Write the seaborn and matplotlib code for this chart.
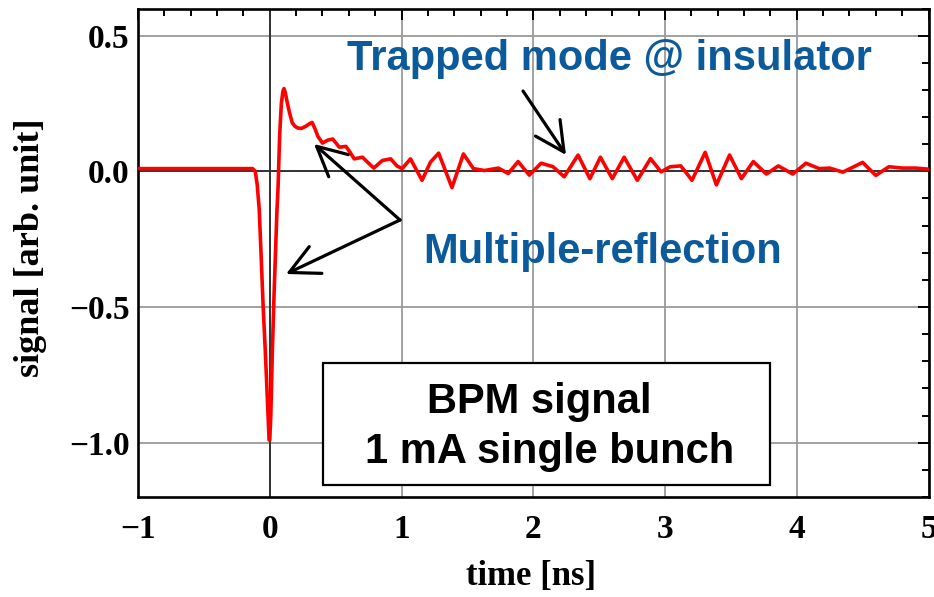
import matplotlib
matplotlib.use("Agg")
import matplotlib.pyplot as plt
import matplotlib.patches as mpatches
from matplotlib.ticker import MultipleLocator, FixedLocator
import seaborn as sns
import pandas as pd

# ---- data ----
time_ns = [-1.0, -0.5, -0.2, -0.13, -0.11, -0.095, -0.08, -0.068, -0.05, -0.034,
           -0.018, -0.005, 0.0, 0.008, 0.02, 0.033, 0.045, 0.055, 0.063, 0.075,
           0.088, 0.100, 0.108, 0.118, 0.13, 0.15, 0.17, 0.189, 0.21, 0.24,
           0.277, 0.30, 0.322, 0.345, 0.364, 0.40, 0.44, 0.478, 0.528, 0.578,
           0.61, 0.641, 0.704, 0.75, 0.79, 0.855, 0.918, 0.965, 1.005, 1.068,
           1.156, 1.22, 1.282, 1.383, 1.47, 1.546, 1.63, 1.735, 1.81, 1.885,
           1.97, 2.06, 2.15, 2.235, 2.34, 2.43, 2.51, 2.60, 2.69, 2.79,
           2.89, 2.97, 3.04, 3.12, 3.205, 3.305, 3.39, 3.49, 3.58, 3.67,
           3.77, 3.86, 3.97, 4.07, 4.17, 4.25, 4.35, 4.50, 4.60, 4.70,
           4.80, 4.90, 5.0]
signal = [0.010, 0.010, 0.010, 0.010, 0.0, -0.05, -0.14, -0.28, -0.50, -0.66,
          -0.84, -0.99, -0.99, -0.90, -0.66, -0.45, -0.28, -0.14, -0.06, 0.13,
          0.25, 0.295, 0.305, 0.29, 0.26, 0.216, 0.18, 0.167, 0.16, 0.158,
          0.167, 0.175, 0.18, 0.155, 0.13, 0.104, 0.115, 0.119, 0.089, 0.092,
          0.07, 0.046, 0.052, 0.03, 0.012, 0.04, 0.046, 0.02, 0.01, 0.046,
          -0.033, 0.034, 0.067, -0.06, 0.064, 0.01, 0.003, 0.012, -0.008, 0.036,
          -0.014, 0.03, 0.017, -0.02, 0.06, -0.027, 0.052, -0.027, 0.052, -0.033,
          0.047, -0.002, 0.017, 0.02, -0.033, 0.07, -0.05, 0.06, -0.027, 0.036,
          -0.01, 0.02, -0.01, 0.03, 0.01, 0.012, -0.003, 0.033, -0.015, 0.017,
          0.012, 0.012, 0.008]

x_ticks = [-1, 0, 1, 2, 3, 4, 5]
x_tick_labels = ["\u22121", "0", "1", "2", "3", "4", "5"]
y_ticks = [0.5, 0.0, -0.5, -1.0]
y_tick_labels = ["0.5", "0.0", "\u22120.5", "\u22121.0"]

x_label = "time [ns]"
y_label = "signal [arb. unit]"
note_trapped = "Trapped mode @ insulator"
note_multi = "Multiple-reflection"
box_line1 = "BPM signal"
box_line2 = "1 mA single bunch"

df = pd.DataFrame({"time": time_ns, "signal": signal})

sns.set_style("white")
plt.rcParams["font.family"] = ["Liberation Serif", "DejaVu Serif"]
plt.rcParams["text.color"] = "black"
plt.rcParams["axes.labelcolor"] = "black"
plt.rcParams["xtick.color"] = "black"
plt.rcParams["ytick.color"] = "black"

W, H = 934, 597
fig = plt.figure(figsize=(W / 100, H / 100), dpi=100)
L, R, T, B = 138, 928.5, 8.5, 497
ax = fig.add_axes([L / W, 1 - B / H, (R - L) / W, (B - T) / H])

sns.lineplot(data=df, x="time", y="signal", ax=ax, color="#ff0000",
             linewidth=2.6, zorder=5)
for ln in ax.get_lines():
    ln.set_solid_joinstyle("round")
    ln.set_solid_capstyle("round")

ax.set_xlim(-1, 5)
ax.set_ylim(-1.2, 0.6)
ax.xaxis.set_major_locator(FixedLocator(x_ticks))
ax.set_xticklabels(x_tick_labels)
ax.yaxis.set_major_locator(FixedLocator(y_ticks))
ax.set_yticklabels(y_tick_labels)
ax.xaxis.set_minor_locator(MultipleLocator(0.2))
ax.yaxis.set_minor_locator(MultipleLocator(0.1))

ax.grid(True, which="major", color="#9a9a9a", linewidth=1.3, zorder=1)
ax.axhline(0, color="#333333", linewidth=1.4, zorder=2)
ax.axvline(0, color="#333333", linewidth=1.4, zorder=2)

for s in ax.spines.values():
    s.set_linewidth(1.9)
    s.set_color("black")

ax.tick_params(which="both", direction="in", top=True, right=True,
               color="black", labelcolor="black", width=1.4)
ax.tick_params(which="major", length=8)
ax.tick_params(which="minor", length=5)
ax.tick_params(axis="x", which="major", pad=12)
ax.tick_params(axis="y", which="major", pad=6)
for lab in ax.get_xticklabels() + ax.get_yticklabels():
    lab.set_fontfamily(["Liberation Serif", "DejaVu Serif"])
    lab.set_fontweight("bold")
    lab.set_fontsize(24)

ax.set_xlabel(x_label, fontsize=25, fontweight="bold", color="black")
ax.set_ylabel(y_label, fontsize=26, fontweight="bold", color="black")
ax.xaxis.set_label_coords((531 - L) / (R - L), -(560 - B) / (B - T))
ax.yaxis.set_label_coords(-(138 - 47) / (R - L), (B - 248) / (B - T))

blue = "#0b5a9c"
sans = ["Liberation Sans", "DejaVu Sans"]


def fx(px):
    return px / W


def fy(py):
    return 1 - py / H


fig.text(fx(347), fy(70), note_trapped, color=blue, fontsize=30,
         fontweight="bold", family=sans, ha="left", va="baseline")
fig.text(fx(423), fy(263), note_multi, color=blue, fontsize=30,
         fontweight="bold", family=sans, ha="left", va="baseline")

box = mpatches.Rectangle((fx(322.5), fy(485)), (770 - 322.5) / W, (485 - 362.5) / H,
                         transform=fig.transFigure, facecolor="white",
                         edgecolor="black", linewidth=1.6, zorder=10)
fig.add_artist(box)
fig.text(fx(427), fy(413), box_line1, color="black", fontsize=30,
         fontweight="bold", family=sans, ha="left", va="baseline", zorder=11)
fig.text(fx(365), fy(463), box_line2, color="black", fontsize=30,
         fontweight="bold", family=sans, ha="left", va="baseline", zorder=11)

arrow_kw = dict(arrowstyle="->,head_length=0.75,head_width=0.38", color="black",
                lw=2.3, shrinkA=0, shrinkB=0, mutation_scale=28)


def arrow(x0, y0, x1, y1):
    ax.annotate("", xy=(x1, H - y1), xytext=(x0, H - y0),
                xycoords="figure pixels", textcoords="figure pixels",
                arrowprops=arrow_kw, zorder=12, annotation_clip=False)


arrow(523, 91, 566, 155)
arrow(400, 220, 314, 144)
arrow(400, 220, 286, 274)

fig.savefig("out.png", dpi=100)
